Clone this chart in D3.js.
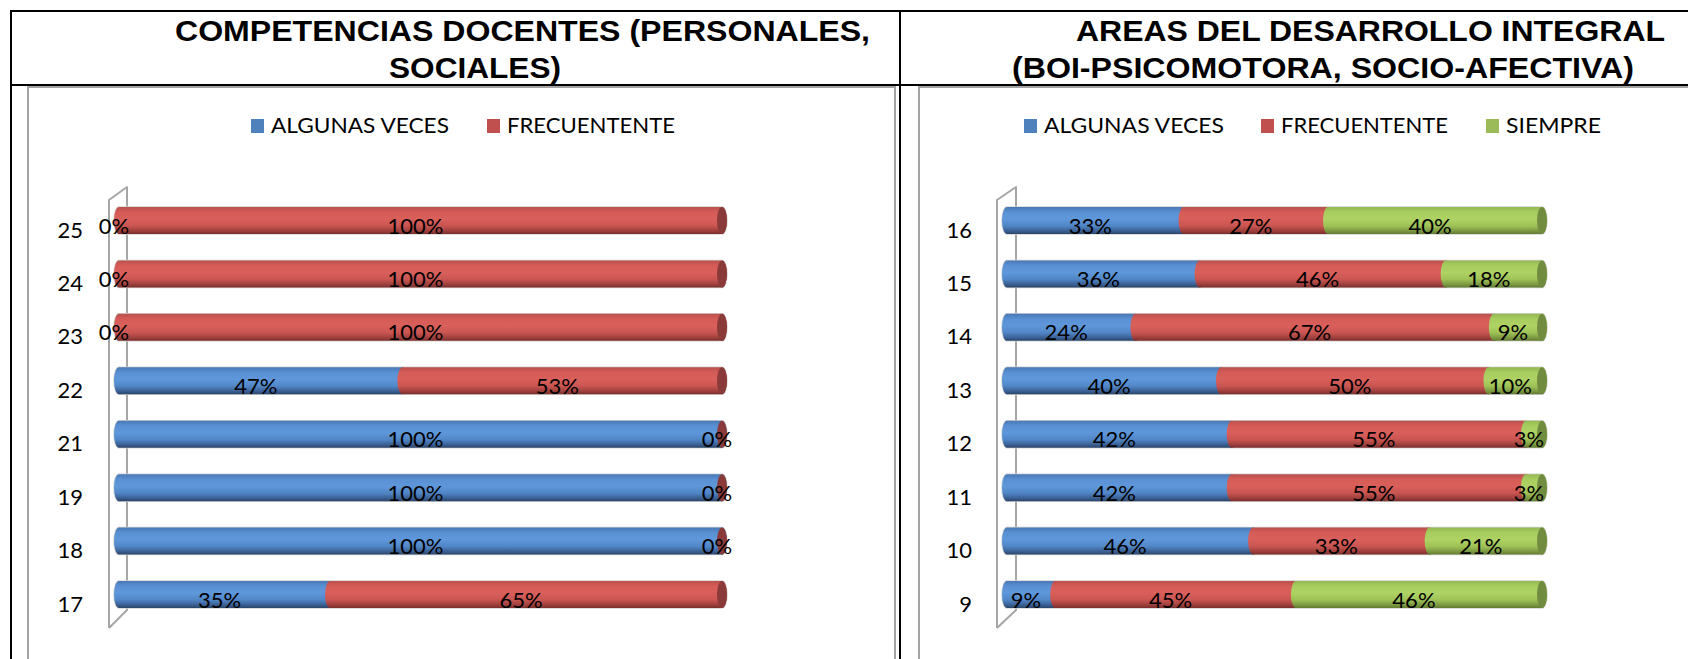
<!DOCTYPE html>
<html>
<head>
<meta charset="utf-8">
<script src="https://cdn.jsdelivr.net/npm/d3@7"></script>
<style>
  html, body { margin: 0; padding: 0; background: #fff; }
  svg { display: block; }
</style>
</head>
<body>
<svg id="chart" width="1688" height="659"></svg>
<script>
// ---- data ----
const seriesNames = ["ALGUNAS VECES", "FRECUENTENTE", "SIEMPRE"];

const leftCategories = ["25", "24", "23", "22", "21", "19", "18", "17"];
const leftAlgunas    = [0, 0, 0, 47, 100, 100, 100, 35];
const leftFrecuente  = [100, 100, 100, 53, 0, 0, 0, 65];

const rightCategories = ["16", "15", "14", "13", "12", "11", "10", "9"];
const rightAlgunas    = [33, 36, 24, 40, 42, 42, 46, 9];
const rightFrecuente  = [27, 46, 67, 50, 55, 55, 33, 45];
const rightSiempre    = [40, 18, 9, 10, 3, 3, 21, 46];

const leftTitle  = ["COMPETENCIAS DOCENTES (PERSONALES,", "SOCIALES)"];
const rightTitle = ["AREAS DEL DESARROLLO INTEGRAL", "(BOI-PSICOMOTORA, SOCIO-AFECTIVA)"];

// ---- styling ----
const palette = {
  legend: ["#4f81bd", "#c0504d", "#9bbb59"],
  cap:    ["#3c5f8f", "#8a3b39", "#718c3e"],
  stops: [
    ["#4a78b4", "#5a91d4", "#5e97da", "#5186c6", "#3b6196", "#2b4569"],
    ["#b9504c", "#d65c58", "#d95f5b", "#c95551", "#9f403d", "#7a2f2d"],
    ["#94b953", "#a8cd5f", "#aed263", "#9fc257", "#7d9a42", "#617a31"]
  ]
};
const stopOffsets = [0, 0.2, 0.45, 0.7, 0.88, 1];
const LABEL_FONT = "Lato, 'DejaVu Sans', sans-serif";

const svg = d3.select("#chart");
const defs = svg.append("defs");
palette.stops.forEach((cols, i) => {
  const g = defs.append("linearGradient")
    .attr("id", "cyl" + i)
    .attr("x1", 0).attr("y1", 0).attr("x2", 0).attr("y2", 1);
  cols.forEach((c, k) => g.append("stop").attr("offset", stopOffsets[k]).attr("stop-color", c));
});

svg.append("rect").attr("width", 1688).attr("height", 659).attr("fill", "#fff");

// ---- table frame around both panels ----
const frame = svg.append("g").attr("stroke", "#000").attr("stroke-width", 2).attr("fill", "none");
frame.append("line").attr("x1", 10).attr("x2", 1690).attr("y1", 11).attr("y2", 11);
frame.append("line").attr("x1", 10).attr("x2", 1690).attr("y1", 85).attr("y2", 85);
frame.append("line").attr("x1", 11).attr("x2", 11).attr("y1", 10).attr("y2", 660);
frame.append("line").attr("x1", 900).attr("x2", 900).attr("y1", 10).attr("y2", 660);

// inner chart areas
const inner = svg.append("g").attr("stroke", "#a3a3a3").attr("stroke-width", 2).attr("fill", "none");
inner.append("path").attr("d", "M28,660 V87 H895 V660");
inner.append("path").attr("d", "M919,660 V87 H1690");

// ---- titles ----
function drawTitle(lines, specs) {
  lines.forEach((t, i) => {
    const s = specs[i];
    svg.append("text")
      .attr("x", s.x).attr("y", s.y)
      .attr("textLength", s.w).attr("lengthAdjust", "spacingAndGlyphs")
      .attr("font-family", "'Liberation Sans', Arial, sans-serif")
      .attr("font-weight", "bold").attr("font-size", 29)
      .attr("fill", "#000")
      .text(t);
  });
}
drawTitle(leftTitle,  [{x: 175, y: 41, w: 695}, {x: 389, y: 78, w: 172}]);
drawTitle(rightTitle, [{x: 1076, y: 41, w: 589}, {x: 1012, y: 78, w: 622}]);

// ---- one stacked cylinder-bar panel ----
function drawPanel(cfg) {
  const g = svg.append("g");
  const n = cfg.series.length;
  const rows = cfg.categories.map((c, i) => {
    const r = {cat: c};
    cfg.series.forEach((s, k) => r["s" + k] = s[i]);
    return r;
  });
  const keys = d3.range(n).map(k => "s" + k);
  const stacked = d3.stack().keys(keys)(rows);

  const x = d3.scaleLinear().domain([0, 100]).range(cfg.xRange);
  const y = d3.scalePoint().domain(cfg.categories).range([220.5, 594.5]);
  const ry = 13.5, rx = 5;

  // legend
  const lg = g.append("g");
  cfg.legend.forEach((l, k) => {
    lg.append("rect").attr("x", l.x).attr("y", 119).attr("width", 13).attr("height", 14)
      .attr("fill", palette.legend[k]);
    lg.append("text").attr("x", l.x + 20).attr("y", 133)
      .attr("textLength", l.w).attr("lengthAdjust", "spacingAndGlyphs")
      .attr("font-family", LABEL_FONT).attr("font-size", 21).attr("fill", "#000")
      .text(seriesNames[k]);
  });

  // back wall of the 3D plot
  const w = cfg.wall;
  g.append("path")
    .attr("d", `M${w[0]},628 V200 L${w[1]},187 V610 L${w[0]},628`)
    .attr("fill", "none").attr("stroke", "#a6a6a6").attr("stroke-width", 2)
    .attr("stroke-linejoin", "round");

  // category axis
  const axis = d3.axisLeft(y).tickSize(0).tickPadding(0);
  const ax = g.append("g").attr("transform", `translate(${cfg.labelX},16.5)`).call(axis);
  ax.select(".domain").remove();
  ax.selectAll("text")
    .attr("font-family", LABEL_FONT).attr("font-size", 22).attr("fill", "#000")
    .attr("dy", 0);

  const capsule = (a, b, cy) =>
    `M${a},${cy - ry} L${b},${cy - ry} A${rx},${ry} 0 0 1 ${b},${cy + ry} ` +
    `L${a},${cy + ry} A${rx},${ry} 0 0 1 ${a},${cy - ry} Z`;

  // faint outline behind each bar
  g.append("g").selectAll("path").data(rows).join("path")
    .attr("d", d => capsule(x(0), x(100), y(d.cat)))
    .attr("fill", "none").attr("stroke", "#d4d4d4").attr("stroke-width", 1.5);

  // bar segments, drawn left to right
  const bars = g.append("g");
  rows.forEach((r, i) => {
    stacked.forEach((layer, k) => {
      const seg = layer[i];
      if (seg[1] - seg[0] <= 0) return;
      bars.append("path")
        .attr("d", capsule(x(seg[0]), x(seg[1]), y(r.cat)))
        .attr("fill", `url(#cyl${k})`);
    });
    // visible end face of the last series
    bars.append("ellipse")
      .attr("cx", x(100)).attr("cy", y(r.cat))
      .attr("rx", rx).attr("ry", ry)
      .attr("fill", palette.cap[n - 1]);
  });

  // value labels
  const labels = g.append("g")
    .attr("font-family", LABEL_FONT).attr("font-size", 22).attr("fill", "#000")
    .attr("text-anchor", "middle");
  rows.forEach((r, i) => {
    stacked.forEach((layer, k) => {
      const seg = layer[i];
      const v = seg[1] - seg[0];
      labels.append("text")
        .attr("x", x((seg[0] + seg[1]) / 2) - 5)
        .attr("y", y(r.cat) + 13)
        .text(v + "%");
    });
  });
}

drawPanel({
  categories: leftCategories,
  series: [leftAlgunas, leftFrecuente],
  xRange: [119, 722],
  wall: [109, 127],
  labelX: 83,
  legend: [{x: 251, w: 178}, {x: 487, w: 168}]
});

drawPanel({
  categories: rightCategories,
  series: [rightAlgunas, rightFrecuente, rightSiempre],
  xRange: [1007, 1542],
  wall: [997, 1016],
  labelX: 972,
  legend: [{x: 1024, w: 180}, {x: 1261, w: 167}, {x: 1486, w: 95}]
});
</script>
</body>
</html>
